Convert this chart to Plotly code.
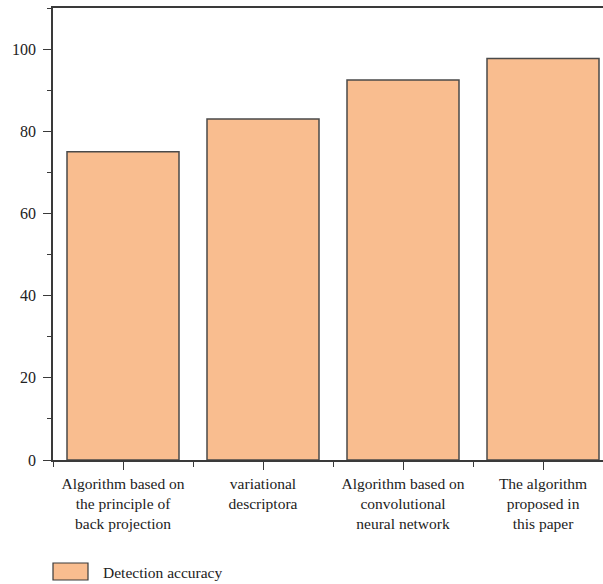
import plotly.graph_objects as go

categories = [
    "Algorithm based on<br>the principle of<br>back projection",
    "variational<br>descriptora",
    "Algorithm based on<br>convolutional<br>neural network",
    "The algorithm<br>proposed in<br>this paper",
]
accuracy = [75, 83, 92.5, 97.7]
series_name = "Detection accuracy"
y_ticks = [0, 20, 40, 60, 80, 100]

W, H = 603, 584
L, R, T, B = 53, 0, 8, 124
pw, ph = W - L - R, H - T - B

bar_color = "#F9BD8F"
line_color = "#3a3a3a"
font_family = "Liberation Serif, DejaVu Serif, serif"

xpos = list(range(len(categories)))

fig = go.Figure()
fig.add_trace(go.Bar(
    x=xpos, y=accuracy, name=series_name, width=0.8,
    marker=dict(color=bar_color, line=dict(color="#4a4a4a", width=1.5)),
    showlegend=False,
))

def px_x(px):
    return (px - L) / pw

def px_y(py):
    return (H - B - py) / ph

fig.add_shape(type="rect", xref="paper", yref="paper",
              x0=px_x(53), x1=px_x(88), y0=px_y(580), y1=px_y(563),
              fillcolor=bar_color, line=dict(color="#3a3a3a", width=1.2))
fig.add_annotation(xref="paper", yref="paper", x=px_x(101), y=px_y(572),
                   text=series_name, showarrow=False, xanchor="left", yanchor="middle",
                   font=dict(family=font_family, size=15.5, color="#222"))

fig.update_layout(
    width=W, height=H,
    margin=dict(l=L, r=R, t=T, b=B, pad=0),
    plot_bgcolor="white", paper_bgcolor="white",
    font=dict(family=font_family, size=15.5, color="#222"),
    xaxis=dict(
        range=[-0.5, -0.5 + pw / 140.0],
        tickmode="array", tickvals=xpos, ticktext=categories,
        ticks="outside", ticklen=8, tickwidth=1.2, tickcolor=line_color,
        showline=True, linecolor=line_color, linewidth=2, mirror=True,
        showgrid=False, zeroline=False,
        minor=dict(tickmode="linear", tick0=-0.5, dtick=1, ticks="outside",
                   ticklen=5, tickwidth=1.2, tickcolor=line_color, showgrid=False),
        tickfont=dict(size=15.5),
    ),
    yaxis=dict(
        range=[0, 110],
        tickmode="array", tickvals=y_ticks,
        ticks="outside", ticklen=8, tickwidth=1.2, tickcolor=line_color,
        showline=True, linecolor=line_color, linewidth=1.5,
        showgrid=False, zeroline=False, ticklabelstandoff=4,
        minor=dict(tickmode="linear", tick0=10, dtick=20, ticks="outside",
                   ticklen=4, tickwidth=1.2, tickcolor=line_color, showgrid=False),
        tickfont=dict(size=16),
    ),
)

fig.write_html("out.html", config={"displayModeBar": False},
               post_script="document.body.style.margin='0';document.body.style.padding='0';")
